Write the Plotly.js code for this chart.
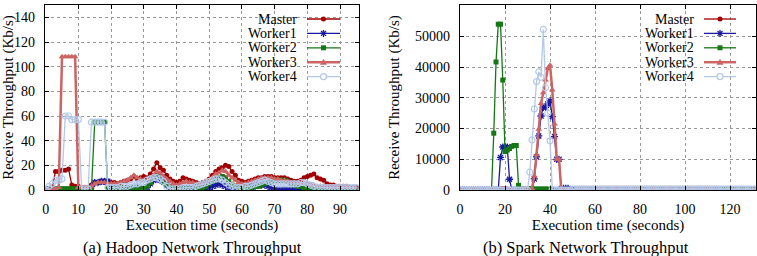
<!DOCTYPE html>
<html><head><meta charset="utf-8">
<script src="https://cdn.plot.ly/plotly-3.0.1.min.js"></script>
<style>html,body{margin:0;padding:0;background:#fff}#chart{width:757px;height:256px}</style>
</head><body><div id="chart"></div>
<script>
// ---------------- DATA ----------------
const seriesNames = ['Master','Worker1','Worker2','Worker3','Worker4'];
const captions = ['(a) Hadoop Network Throughput','(b) Spark Network Throughput'];
const xTitleText = 'Execution time (seconds)';
const yTitleText = 'Receive Throughput (Kb/s)';

const hadoopXTicks = [0,10,20,30,40,50,60,70,80,90];
const hadoopYTicks = [0,20,40,60,80,100,120,140];
const sparkXTicks = [0,20,40,60,80,100,120];
const sparkYTicks = [0,10000,20000,30000,40000,50000,60000];

const hadoopTime = [
0,1,2,3,4,5,6,7,8,9,
10,11,12,13,14,15,16,17,18,19,
20,21,22,23,24,25,26,27,28,29,
30,31,32,33,34,35,36,37,38,39,
40,41,42,43,44,45,46,47,48,49,
50,51,52,53,54,55,56,57,58,59,
60,61,62,63,64,65,66,67,68,69,
70,71,72,73,74,75,76,77,78,79,
80,81,82,83,84,85,86,87,88,89,
90,91,92,93,94,95];

const hadoopMaster = [
1,1,2,15,15,16,16,17,4,3,
3,2,2,2,4,6,6,7,6,7,
6,6,5,6,7,8,9,11,9,10,
11,10,13,17,22,18,16,12,9,7,
6,7,10,9,8,7,6,5,6,7,
9,12,15,17,18,20,19,15,12,8,
7,6,7,8,9,10,10,11,11,11,
10,10,10,10,9,8,7,7,8,10,
11,12,13,10,9,8,5,4,4,3,
3,3,3,2,2,2];

const hadoopWorker1 = [
0,0,0,0,0,0,0,0,0,0,
0,0,0,0,3,6,6,7,7,7,
2,1,1,1,1,1,1,2,2,1,
1,2,5,8,9,8,7,4,2,1,
1,1,1,1,1,1,1,1,1,1,
2,3,4,5,4,3,2,1,1,1,
2,2,3,3,3,4,4,4,3,2,
1,0,0,0,0,0,0,0,0,0,
0,0,0,0,0,0,0,0,0,0,
0,0,0,0,0,0];

const hadoopWorker2 = [
0,1,1,1,1,1,1,1,1,1,
1,1,1,1,1,55,55,55,55,1,
1,1,2,2,2,2,2,2,2,1,
1,3,6,10,12,11,6,4,2,1,
1,1,1,1,1,1,1,1,2,3,
5,7,9,10,11,10,7,4,3,2,
2,2,2,2,3,3,4,5,6,7,
8,8,8,8,7,5,4,3,3,2,
2,2,1,1,1,1,1,1,1,1,
1,1,1,1,1,1];

const hadoopWorker3 = [
1,1,1,1,2,108,108,108,108,108,
2,2,2,2,3,5,6,6,6,5,
5,5,5,6,7,8,10,12,10,9,
8,8,10,12,15,14,11,9,7,5,
4,5,6,7,6,6,5,5,5,6,
8,10,13,14,16,15,12,10,8,6,
5,5,6,7,8,9,10,10,10,10,
9,9,8,8,7,6,6,5,5,5,
5,4,4,3,3,3,2,2,2,2,
2,2,2,2,2,2];

const hadoopWorker4 = [
0,3,5,8,8,9,60,60,57,57,
57,1,1,1,55,55,55,55,55,2,
2,2,2,3,3,3,4,5,5,6,
6,8,9,10,10,9,7,3,1,1,
1,1,2,2,2,2,3,4,5,6,
7,8,9,9,8,6,4,3,2,2,
2,3,3,4,5,6,7,8,7,6,
5,5,5,5,5,5,5,5,6,6,
5,4,3,2,2,2,2,2,2,2,
2,2,2,2,2,2];

const sparkTime = [
0,1,2,3,4,5,6,7,8,9,
10,11,12,13,14,15,16,17,18,19,
20,21,22,23,24,25,26,27,28,29,
30,31,32,33,34,35,36,37,38,39,
40,41,42,43,44,45,46,47,48,49,
50,51,52,53,54,55,56,57,58,59,
60,61,62,63,64,65,66,67,68,69,
70,71,72,73,74,75,76,77,78,79,
80,81,82,83,84,85,86,87,88,89,
90,91,92,93,94,95,96,97,98,99,
100,101,102,103,104,105,106,107,108,109,
110,111,112,113,114,115,116,117,118,119,
120,121,122,123,124,125,126,127,128,129,
130,131];

const sparkMaster = [
0,0,0,0,0,0,0,0,0,0,
0,0,0,0,0,0,0,0,300,400,
400,300,0,0,0,0,0,0,0,0,
0,0,0,0,0,0,0,0,0,0,
0,0,0,0,0,200,200,200,200,200,
200,200,200,200,200,200,200,200,200,200,
200,200,200,200,200,200,200,200,200,200,
200,200,200,200,200,200,200,200,200,200,
200,200,200,200,200,200,200,200,200,200,
200,200,200,200,200,200,200,200,200,200,
200,200,200,200,200,200,200,200,200,200,
200,200,200,200,200,200,200,200,200,200,
200,200,200,200,200,200,200,200,200,200,
200,200];

const sparkWorker1 = [
0,0,0,0,0,0,0,0,0,0,
0,0,0,0,0,0,0,0,10600,14000,
14000,14000,3500,0,0,0,0,0,0,0,
0,0,0,3600,10800,17600,24100,26900,26900,28000,
29000,23900,17400,10000,10000,500,500,500,500,100,
100,100,100,100,100,100,100,100,100,100,
100,100,100,100,100,100,100,100,100,100,
100,100,100,100,100,100,100,100,100,100,
100,100,100,100,100,100,100,100,100,100,
100,100,100,100,100,100,100,100,100,100,
100,100,100,100,100,100,100,100,100,100,
100,100,100,100,100,100,100,100,100,100,
100,100,100,100,100,100,100,100,100,100,
100,100];

const sparkWorker2 = [
0,0,0,0,0,0,0,0,0,0,
0,0,0,0,0,18500,41700,54000,54000,35800,
12500,13000,13500,14200,14500,14500,1500,200,200,200,
200,300,300,300,300,300,300,300,300,300,
100,100,100,100,100,100,100,100,100,100,
100,100,100,100,100,100,100,100,100,100,
100,100,100,100,100,100,100,100,100,100,
100,100,100,100,100,100,100,100,100,100,
100,100,100,100,100,100,100,100,100,100,
100,100,100,100,100,100,100,100,100,100,
100,100,100,100,100,100,100,100,100,100,
100,100,100,100,100,100,100,100,100,100,
100,100,100,100,100,100,100,100,100,100,
100,100];

const sparkWorker3 = [
0,0,0,0,0,0,0,0,0,0,
0,0,0,0,0,0,0,0,0,0,
0,0,0,0,0,0,0,0,0,0,
0,0,500,4600,11600,19800,28200,31700,35800,39600,
40600,32600,21500,10000,10000,0,0,0,0,0,
0,0,0,500,500,500,500,500,500,500,
500,500,500,500,500,500,500,500,500,500,
500,500,500,500,500,500,500,500,500,500,
500,500,500,500,500,500,500,500,500,500,
500,500,500,500,500,500,500,500,500,500,
500,500,500,500,500,500,500,500,500,500,
500,500,500,500,500,500,100,100,100,100,
100,100,100,100,100,100,100,100,100,100,
100,100];

const sparkWorker4 = [
0,0,0,0,0,0,0,0,0,0,
0,0,0,0,0,0,0,0,0,0,
0,0,0,0,0,0,0,0,0,0,
0,5800,16300,26400,35300,38500,36700,52300,33300,25000,
16000,200,0,0,0,0,0,0,0,0,
300,300,300,300,300,300,300,300,300,300,
300,300,300,300,300,300,300,300,300,300,
300,300,300,300,300,300,300,300,300,300,
300,300,300,300,300,300,300,300,300,300,
300,300,300,300,300,300,300,300,300,300,
300,300,300,300,300,300,300,300,300,300,
300,300,300,300,300,300,300,300,300,300,
300,300,300,300,300,300,300,300,300,300,
300,300];

// ---------------- STYLE / LAYOUT ----------------
const FONT = 'Liberation Serif';
const W = 757, H = 256;
const ML = 45, MR = 1, MT = 5, MB = 66;
const PW = W - ML - MR, PH = H - MT - MB;
const PX = v => (v - ML) / PW;
const PY = v => (H - MB - v) / PH;

const styles = [
  {color:'#a00000', width:1.3, symbol:'circle',        size:5, mlw:0},
  {color:'#1a1aa0', width:1.3, symbol:'asterisk-open', size:6, mlw:1.3},
  {color:'#157815', width:1.3, symbol:'square',        size:5, mlw:0},
  {color:'#cc6464', width:2.5, symbol:'triangle-up',   size:6, mlw:0},
  {color:'#b4c8e8', width:1.3, symbol:'circle-open',   size:6, mlw:1.2}
];

const hadoopSeries = [hadoopMaster, hadoopWorker1, hadoopWorker2, hadoopWorker3, hadoopWorker4];
const sparkSeries = [sparkMaster, sparkWorker1, sparkWorker2, sparkWorker3, sparkWorker4];

const traces = [];
function addTraces(xs, ys, xa, ya) {
  ys.forEach((y, i) => {
    const s = styles[i];
    traces.push({
      type:'scatter', mode:'lines+markers', name:seriesNames[i],
      x:xs, y:y, xaxis:xa, yaxis:ya, showlegend:false, hoverinfo:'skip',
      line:{color:s.color, width:s.width},
      marker:{symbol:s.symbol, size:s.size, color:s.color, line:{color:s.color, width:s.mlw}},
      cliponaxis:true
    });
  });
}
addTraces(hadoopTime, hadoopSeries, 'x', 'y');
addTraces(sparkTime, sparkSeries, 'x2', 'y2');

function axis(extra) {
  return Object.assign({
    showline:true, mirror:'allticks', linecolor:'#000', linewidth:1.2,
    ticks:'inside', ticklen:4, tickcolor:'#000', tickwidth:1,
    showgrid:true, gridcolor:'#999', griddash:'dot', gridwidth:1,
    zeroline:false, fixedrange:true, automargin:false, tickformat:'d',
    tickfont:{family:FONT, size:14, color:'#000'}
  }, extra);
}
const titleFont = {family:FONT, size:15, color:'#000'};

const layout = {
  width:W, height:H, margin:{l:ML, r:MR, t:MT, b:MB, pad:0},
  paper_bgcolor:'#fff', plot_bgcolor:'#fff', showlegend:false,
  font:{family:FONT, size:14, color:'#000'},
  xaxis: axis({domain:[0, PX(359)], range:[-0.2, 95.8], tickvals:hadoopXTicks, anchor:'y',
    ticklabelstandoff:6, title:{text:xTitleText, font:titleFont, standoff:2}}),
  yaxis: axis({domain:[0,1], range:[0,150], tickvals:hadoopYTicks, anchor:'x',
    ticklabelstandoff:6, title:{text:yTitleText, font:titleFont, standoff:6}}),
  xaxis2: axis({domain:[PX(460), 1], range:[0, 131.5], tickvals:sparkXTicks, anchor:'y2',
    ticklabelstandoff:6, title:{text:xTitleText, font:titleFont, standoff:2}}),
  yaxis2: axis({domain:[0,1], range:[0,60250], tickvals:sparkYTicks, anchor:'x2',
    ticklabelstandoff:6, title:{text:yTitleText, font:titleFont, standoff:11}}),
  annotations:[], shapes:[]
};

// captions
[[192, captions[0]], [586, captions[1]]].forEach(([cx, txt]) => {
  layout.annotations.push({xref:'paper', yref:'paper', x:PX(cx), y:PY(247),
    xanchor:'center', yanchor:'middle', showarrow:false, text:txt,
    font:{family:FONT, size:16.5, color:'#000'}});
});

// legends (gnuplot style: text at left, sample at right)
const legendBoxes = [
  {textRight:298, lineL:307, lineR:340},
  {textRight:695, lineL:704, lineR:736}
];
const legendRows = [19, 33.4, 47.8, 62.2, 76.6];
legendBoxes.forEach(b => {
  seriesNames.forEach((nm, i) => {
    const s = styles[i], y = legendRows[i], mx = (b.lineL + b.lineR) / 2;
    layout.annotations.push({xref:'paper', yref:'paper', x:PX(b.textRight), y:PY(y),
      xanchor:'right', yanchor:'middle', showarrow:false, text:nm,
      font:{family:FONT, size:14, color:'#000'}, borderpad:0});
    layout.shapes.push({type:'line', xref:'paper', yref:'paper',
      x0:PX(b.lineL), x1:PX(b.lineR), y0:PY(y), y1:PY(y),
      line:{color:s.color, width:s.width}});
    const base = {xref:'paper', yref:'paper', xsizemode:'pixel', ysizemode:'pixel',
      xanchor:PX(mx), yanchor:PY(y)};
    if (s.symbol === 'circle') {
      layout.shapes.push(Object.assign({type:'circle', x0:-2.5, x1:2.5, y0:-2.5, y1:2.5,
        fillcolor:s.color, line:{color:s.color, width:0}}, base));
    } else if (s.symbol === 'circle-open') {
      layout.shapes.push(Object.assign({type:'circle', x0:-3, x1:3, y0:-3, y1:3,
        fillcolor:'#fff', line:{color:s.color, width:1.2}}, base));
    } else if (s.symbol === 'square') {
      layout.shapes.push(Object.assign({type:'rect', x0:-2.5, x1:2.5, y0:-2.5, y1:2.5,
        fillcolor:s.color, line:{color:s.color, width:0}}, base));
    } else if (s.symbol === 'triangle-up') {
      layout.shapes.push(Object.assign({type:'path', path:'M-3.5,-2.5 L3.5,-2.5 L0,3.5 Z',
        fillcolor:s.color, line:{color:s.color, width:0}}, base));
    } else if (s.symbol === 'asterisk-open') {
      layout.shapes.push(Object.assign({type:'path',
        path:'M-3.5,0 L3.5,0 M0,-3.5 L0,3.5 M-2.5,-2.5 L2.5,2.5 M-2.5,2.5 L2.5,-2.5',
        line:{color:s.color, width:1.3}}, base));
    }
  });
});

Plotly.newPlot('chart', traces, layout, {staticPlot:true, displayModeBar:false});
</script>
</body></html>
